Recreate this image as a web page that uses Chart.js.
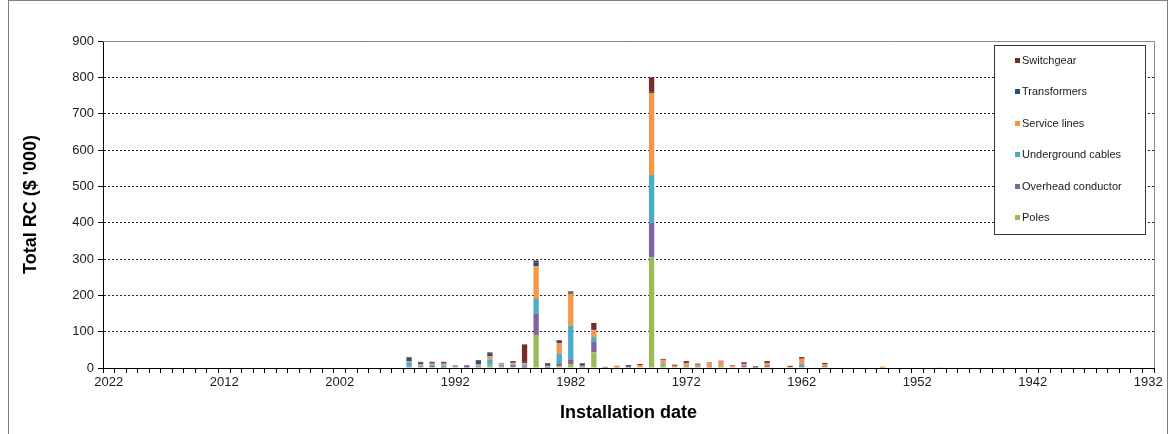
<!DOCTYPE html>
<html>
<head>
<meta charset="utf-8">
<title>Total RC by installation date</title>
<script src="https://cdn.jsdelivr.net/npm/chart.js@4.4.1/dist/chart.umd.min.js"></script>
<style>
  html, body { margin: 0; padding: 0; background: #fff; }
  #wrap { position: relative; width: 1176px; height: 434px; overflow: hidden; }
  #frame { position: absolute; left: 8px; top: 0px; width: 1160px; height: 460px; border: 1px solid #7f7f7f; box-sizing: border-box; }
  canvas { position: absolute; left: 0; top: 0; }
</style>
</head>
<body>
<div id="wrap">
  <div id="frame"></div>
  <canvas id="chart" width="1176" height="434"></canvas>
</div>
<script>
// Installation years that carry assets (descending, as on the axis)
const barYears = [1996, 1995, 1994, 1993, 1992, 1991, 1990, 1989, 1988, 1987, 1986, 1985, 1984, 1983, 1982, 1981, 1980, 1979, 1978, 1977, 1976, 1975, 1974, 1973, 1972, 1971, 1970, 1969, 1968, 1967, 1966, 1965, 1963, 1962, 1960, 1955, 1950];

// Replacement cost ($ '000) per asset class, aligned with barYears
const poles        = [2, 3, 2, 1, 3, 0, 2, 8, 3, 3, 1, 91, 1, 5, 11, 1, 43, 0, 1, 0, 2, 305, 8, 3, 6, 3, 2, 7, 2, 3, 0, 3, 0, 3, 3, 1, 0];
const overhead     = [2, 2, 4, 1, 1, 6, 1, 1, 1, 5, 3, 58, 2, 8, 13, 1, 29, 0, 0, 3, 0, 94, 2, 0, 1, 2, 2, 1, 0, 4, 0, 4, 0, 4, 2, 0, 0];
const underground  = [12, 2, 4, 5, 0, 0, 4, 15, 5, 2, 4, 41, 1, 26, 92, 1, 13, 0, 0, 0, 0, 132, 2, 0, 0, 0, 0, 0, 0, 0, 0, 0, 0, 5, 0, 0, 0];
const serviceLines = [3, 3, 2, 5, 1, 0, 4, 8, 3, 3, 5, 90, 2, 29, 88, 3, 19, 0, 3, 0, 6, 226, 10, 3, 6, 4, 9, 10, 3, 3, 0, 7, 3, 13, 6, 3, 2];
const transformers = [9, 5, 2, 2, 1, 1, 9, 9, 1, 2, 4, 11, 5, 7, 4, 5, 3, 0, 0, 2, 0, 3, 1, 0, 1, 0, 0, 0, 0, 2, 4, 0, 0, 1, 0, 0, 0];
const switchgear   = [2, 2, 3, 3, 1, 1, 2, 2, 1, 4, 48, 5, 2, 2, 3, 2, 17, 3, 2, 3, 3, 40, 2, 3, 5, 3, 2, 2, 2, 4, 1, 5, 3, 4, 3, 0, 0];

// Axis range and labelled years
const firstYear = 2022;
const lastYear = 1932;
const tickYears = [2022, 2012, 2002, 1992, 1982, 1972, 1962, 1952, 1942, 1932];
const yTicks = [0, 100, 200, 300, 400, 500, 600, 700, 800, 900];

// One category per year, newest on the left
const categories = [];
for (let y = firstYear; y >= lastYear; y--) categories.push(String(y));

function spread(values) {
  const out = categories.map(() => null);
  barYears.forEach((yr, i) => {
    const idx = categories.indexOf(String(yr));
    if (idx >= 0) out[idx] = values[i];
  });
  return out;
}

const series = [
  { label: 'Poles',              values: poles,        color: '#9BBB59' },
  { label: 'Overhead conductor', values: overhead,     color: '#8064A2' },
  { label: 'Underground cables', values: underground,  color: '#4BACC6' },
  { label: 'Service lines',      values: serviceLines, color: '#F79646' },
  { label: 'Transformers',       values: transformers, color: '#2C4D75' },
  { label: 'Switchgear',         values: switchgear,   color: '#772C2A' }
];

const FONT = '"Liberation Sans", Arial, sans-serif';

// Plot frame: grey top and right edges of the plot area
const plotFrame = {
  id: 'plotFrame',
  beforeDatasetsDraw(chart) {
    const { ctx, chartArea: a } = chart;
    ctx.save();
    ctx.strokeStyle = '#8c8c8c';
    ctx.lineWidth = 1;
    ctx.setLineDash([]);
    ctx.beginPath();
    ctx.moveTo(a.left, Math.round(a.top) + 0.5);
    ctx.lineTo(Math.round(a.right) + 0.5, Math.round(a.top) + 0.5);
    ctx.lineTo(Math.round(a.right) + 0.5, a.bottom);
    ctx.stroke();
    ctx.restore();
  }
};

// Boxed legend inside the plot, top-right
const boxLegend = {
  id: 'boxLegend',
  afterDatasetsDraw(chart) {
    const { ctx } = chart;
    const x0 = 994, y0 = 45, w = 151, h = 189;
    ctx.save();
    ctx.setLineDash([]);
    ctx.fillStyle = '#ffffff';
    ctx.fillRect(x0, y0, w, h);
    ctx.strokeStyle = '#333333';
    ctx.lineWidth = 1;
    ctx.strokeRect(x0 + 0.5, y0 + 0.5, w, h);
    ctx.font = '11px ' + FONT;
    ctx.textBaseline = 'middle';
    const items = chart.data.datasets.slice().reverse();
    items.forEach((ds, i) => {
      const cy = 61 + i * 31.4;
      ctx.fillStyle = ds.backgroundColor;
      ctx.fillRect(1015, Math.round(cy) - 3, 5, 5);
      ctx.fillStyle = '#1a1a1a';
      ctx.fillText(ds.label, 1022, cy);
    });
    ctx.restore();
  }
};

new Chart(document.getElementById('chart'), {
  type: 'bar',
  data: {
    labels: categories,
    datasets: series.map(s => ({
      label: s.label,
      data: spread(s.values),
      backgroundColor: s.color,
      borderWidth: 0,
      categoryPercentage: 1.0,
      barPercentage: 0.46
    }))
  },
  options: {
    responsive: false,
    animation: false,
    layout: { padding: { left: 8, top: 41, right: 22, bottom: 0 } },
    plugins: {
      legend: { display: false },
      tooltip: { enabled: false }
    },
    scales: {
      x: {
        stacked: true,
        offset: true,
        grid: {
          offset: true,
          drawOnChartArea: false,
          drawTicks: true,
          tickLength: 5,
          tickColor: '#000'
        },
        border: { display: true, color: '#000', width: 1 },
        ticks: {
          autoSkip: false,
          maxRotation: 0,
          minRotation: 0,
          padding: 2,
          color: '#1a1a1a',
          font: { family: FONT, size: 13 },
          callback(value) {
            const yr = Number(this.getLabelForValue(value));
            return tickYears.includes(yr) ? String(yr) : '';
          }
        },
        title: {
          display: true,
          text: 'Installation date',
          color: '#000',
          font: { family: FONT, size: 18, weight: 'bold' },
          padding: { top: 0, bottom: 10 }
        },
        afterFit(scale) { scale.height = 66; }
      },
      y: {
        stacked: true,
        min: 0,
        max: 900,
        afterBuildTicks(scale) { scale.ticks = yTicks.map(v => ({ value: v })); },
        grid: {
          color: '#222',
          lineWidth: 1,
          tickLength: 5,
          tickColor: '#000',
          tickBorderDash: []
        },
        border: { display: true, color: '#000', width: 1, dash: [2, 2] },
        ticks: {
          padding: 4,
          color: '#1a1a1a',
          font: { family: FONT, size: 13 }
        },
        title: {
          display: true,
          text: "Total RC ($ '000)",
          color: '#000',
          font: { family: FONT, size: 18, weight: 'bold' },
          padding: { top: 12, bottom: 0 }
        },
        afterFit(scale) { scale.width = 95; }
      }
    }
  },
  plugins: [plotFrame, boxLegend]
});
</script>
</body>
</html>
